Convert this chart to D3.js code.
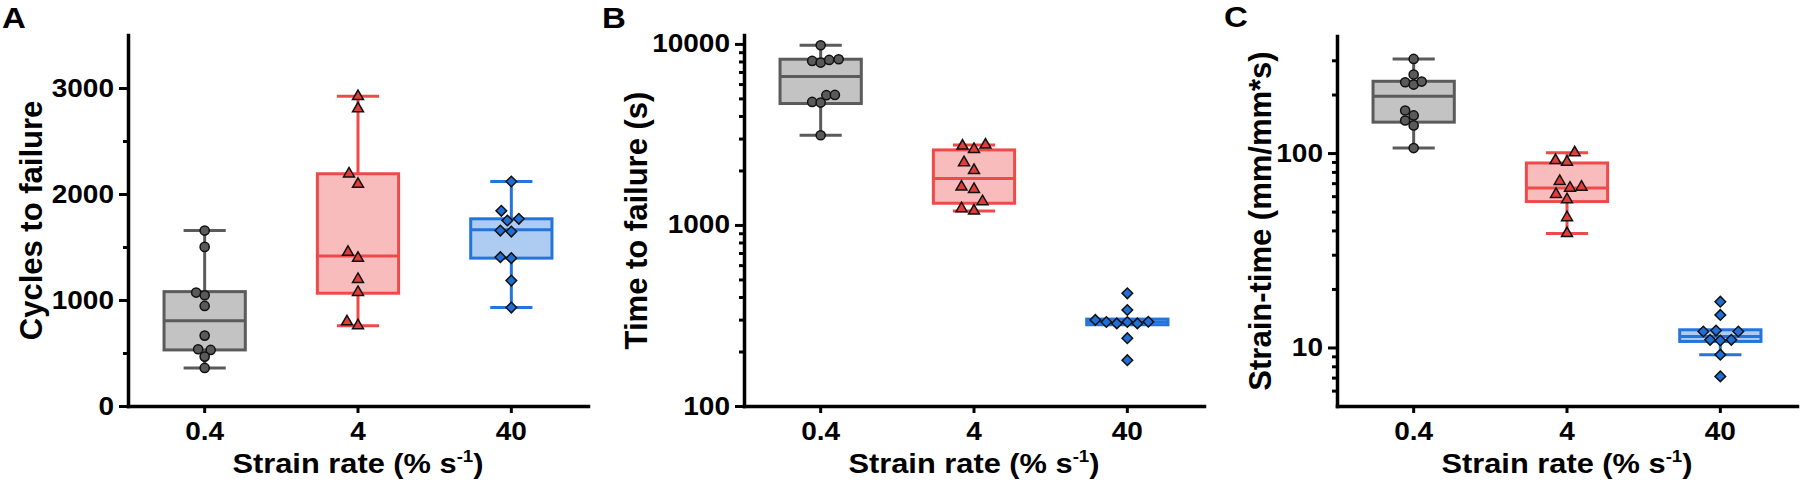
<!DOCTYPE html>
<html><head><meta charset="utf-8">
<script src="https://cdn.jsdelivr.net/npm/d3@7"></script>
<style>
body{margin:0;background:#fff}
svg{display:block}
text{font-family:"Liberation Sans",Arial,Helvetica,sans-serif;font-weight:bold;fill:#000}
</style>
</head><body>
<svg id="chart" width="1800" height="483"></svg>
<script>
// ---------- data ----------
const categories = ["0.4", "4", "40"];

// Panel A: Cycles to failure (linear)
const cyclesTicks = [0, 1000, 2000, 3000];
const cyclesMinorTicks = [500, 1500, 2500];
const cyclesGray = [1655, 1501, 1070, 1045, 944, 664, 535, 529, 466, 359];
const cyclesRed  = [2921, 2805, 2191, 2093, 1451, 1395, 1196, 1073, 796, 758];
const cyclesBlue = [2118, 1841, 1766, 1750, 1655, 1646, 1404, 1395, 1183, 929];
// box stats: [lowWhisker, Q1, median, Q3, highWhisker]
const cyclesBoxGray = [359, 529, 805, 1079, 1655];
const cyclesBoxRed  = [758, 1064, 1416, 2191, 2921];
const cyclesBoxBlue = [929, 1395, 1662, 1766, 2118];

// Panel B: Time to failure (log)
const timeTicks = [100, 1000, 10000];
const timeMinorTicks = [200, 300, 400, 500, 600, 700, 800, 900, 2000, 3000, 4000, 5000, 6000, 7000, 8000, 9000];
const timeGray = [9835, 8054, 7889, 8157, 8230, 4782, 4744, 5208, 5227, 3131];
const timeRed  = [2732, 2619, 2767, 2212, 2005, 1622, 1575, 1347, 1232, 1195];
const timeBlue = [419, 339, 299, 291, 286, 291, 286, 292, 237, 179];
const timeBoxGray = [3131, 4685, 6607, 8230, 9835];
const timeBoxRed  = [1195, 1318, 1805, 2597, 2767];
const timeBoxBlue = [281, 281, 291, 302, 302];

// Panel C: Strain-time (log)
const strainTicks = [10, 100];
const strainMinorTicks = [6, 7, 8, 9, 20, 30, 40, 50, 60, 70, 80, 90, 200, 300];
const strainGray = [304.8, 253.3, 231.3, 225, 233.2, 165.6, 156.1, 147.1, 138.7, 106.1];
const strainRed  = [91.7, 89.9, 100.5, 71.6, 66.1, 66.9, 61.4, 57.7, 46.6, 38.6];
const strainBlue = [17.2, 14.7, 12.08, 12.22, 12.08, 10.95, 10.86, 10.95, 9.18, 7.1];
const strainBoxGray = [106.1, 144.2, 196, 234, 304.8];
const strainBoxRed  = [38.6, 56.3, 66.1, 88.9, 100.5];
const strainBoxBlue = [9.18, 10.74, 11.39, 12.33, 12.33];

// horizontal dodge of overlapping points (in marker widths)
const dodgeCyclesGray = [0, 0, -0.85, 0, 0, 0, -0.65, 0.6, 0, 0];
const dodgeCyclesRed  = [0, 0, -0.9, 0, -1.0, 0, 0, 0, -1.1, 0];
const dodgeCyclesBlue = [0, -1.0, 0.75, -0.4, -1.1, 0, -1.1, 0, 0, 0];
const dodgeTimeGray = [0, -0.85, 0, 0.85, 1.8, -0.85, 0, 0.57, 1.42, 0];
const dodgeTimeRed  = [-1.15, 0, 1.15, -1.0, 0, -1.25, 0, 0.85, -1.25, 0];
const dodgeTimeBlue = [0, 0, -3.2, -2.1, -1.05, 0, 1.0, 2.1, 0, 0];
const dodgeStrainGray = [0, 0, -0.85, 0, 0.8, -0.85, 0, -0.85, 0, 0];
const dodgeStrainRed  = [-1.15, 0, 0.77, -0.73, 0.3, 1.45, -1.1, 0, 0, 0];
const dodgeStrainBlue = [0, 0, -1.7, -0.43, 1.8, -1.02, 0, 1.1, 0, 0];

// ---------- styles ----------
const styles = [
  {fill: "#c3c3c3", stroke: "#5b5b5b", mfill: "#5a5a5a", symbol: d3.symbolCircle, size: 66, rot: 0},
  {fill: "#f9bcbc", stroke: "#ef4a4a", mfill: "#e23d3b", symbol: d3.symbolTriangle, size: 52, rot: 0},
  {fill: "#aecbf1", stroke: "#2474dc", mfill: "#1f6fd6", symbol: d3.symbolSquare, size: 56, rot: 45}
];
const UNIT = 10;           // marker width in px
const TXT_SX = 1.12;       // horizontal stretch of tick text

const svg = d3.select("#chart");

const panels = [
  {
    label: "A", labelX: 2, labelY: 28,
    x0: 128, x1: 588, yTop: 35, yBot: 406,
    scale: d3.scaleLinear().domain([0, 3500]),
    major: cyclesTicks, minor: cyclesMinorTicks,
    title: "Cycles to failure", titleX: 31,
    values: [cyclesGray, cyclesRed, cyclesBlue],
    boxes: [cyclesBoxGray, cyclesBoxRed, cyclesBoxBlue],
    dodge: [dodgeCyclesGray, dodgeCyclesRed, dodgeCyclesBlue]
  },
  {
    label: "B", labelX: 602, labelY: 28,
    x0: 744, x1: 1204, yTop: 35, yBot: 406,
    scale: d3.scaleLog().domain([100, 11200]),
    major: timeTicks, minor: timeMinorTicks,
    title: "Time to failure (s)", titleX: 636,
    values: [timeGray, timeRed, timeBlue],
    boxes: [timeBoxGray, timeBoxRed, timeBoxBlue],
    dodge: [dodgeTimeGray, dodgeTimeRed, dodgeTimeBlue]
  },
  {
    label: "C", labelX: 1224, labelY: 27,
    x0: 1337, x1: 1797, yTop: 36, yBot: 406,
    scale: d3.scaleLog().domain([5, 400]),
    major: strainTicks, minor: strainMinorTicks,
    title: "Strain-time (mm/mm*s)", titleX: 1260,
    values: [strainGray, strainRed, strainBlue],
    boxes: [strainBoxGray, strainBoxRed, strainBoxBlue],
    dodge: [dodgeStrainGray, dodgeStrainRed, dodgeStrainBlue]
  }
];

panels.forEach(p => {
  const g = svg.append("g");
  const x = d3.scaleBand().domain(categories).range([p.x0, p.x1]);
  const y = p.scale.range([p.yBot, p.yTop]);
  const bw = x.bandwidth();
  const boxW = bw * 0.53;
  const capW = bw * 0.275;

  // boxes
  categories.forEach((c, i) => {
    const st = styles[i];
    const [lo, q1, med, q3, hi] = p.boxes[i];
    const cx = x(c) + bw / 2;
    const bg = g.append("g").attr("stroke", st.stroke).attr("stroke-width", 3).attr("fill", "none");
    if (hi > q3) {
      bg.append("line").attr("x1", cx).attr("x2", cx).attr("y1", y(q3)).attr("y2", y(hi));
      bg.append("line").attr("x1", cx - capW / 2).attr("x2", cx + capW / 2).attr("y1", y(hi)).attr("y2", y(hi));
    }
    if (lo < q1) {
      bg.append("line").attr("x1", cx).attr("x2", cx).attr("y1", y(q1)).attr("y2", y(lo));
      bg.append("line").attr("x1", cx - capW / 2).attr("x2", cx + capW / 2).attr("y1", y(lo)).attr("y2", y(lo));
    }
    bg.append("rect").attr("x", cx - boxW / 2).attr("width", boxW)
      .attr("y", y(q3)).attr("height", Math.max(0, y(q1) - y(q3)))
      .attr("fill", st.fill);
    bg.append("line").attr("x1", cx - boxW / 2).attr("x2", cx + boxW / 2).attr("y1", y(med)).attr("y2", y(med));
  });

  // points
  categories.forEach((c, i) => {
    const st = styles[i];
    const cx = x(c) + bw / 2;
    const sym = d3.symbol().type(st.symbol).size(st.size);
    g.append("g").selectAll("path").data(p.values[i]).join("path")
      .attr("d", sym)
      .attr("transform", (d, k) => `translate(${cx + p.dodge[i][k] * UNIT},${y(d)}) rotate(${st.rot})`)
      .attr("fill", st.mfill).attr("stroke", "#111").attr("stroke-width", 1.5);
  });

  // y axis (minor ticks)
  const gm = g.append("g").attr("transform", `translate(${p.x0},0)`)
    .call(d3.axisLeft(y).tickValues(p.minor).tickSize(5).tickSizeOuter(0).tickFormat(""));
  gm.select(".domain").remove();
  gm.selectAll("line").attr("stroke", "#000").attr("stroke-width", 3);

  // y axis (major)
  const gy = g.append("g").attr("transform", `translate(${p.x0},0)`)
    .call(d3.axisLeft(y).tickValues(p.major).tickSize(9).tickSizeOuter(0).tickFormat(d3.format("d")));
  gy.select(".domain").attr("stroke", "#000").attr("stroke-width", 3.5).attr("stroke-linecap", "square");
  gy.selectAll(".tick line").attr("stroke", "#000").attr("stroke-width", 3);
  gy.selectAll(".tick text").attr("x", 0).attr("transform", `translate(-14,0) scale(${TXT_SX},1)`)
    .style("font-size", "25px");
  gy.attr("font-family", null).attr("font-size", null);

  // x axis
  const gx = g.append("g").attr("transform", `translate(0,${p.yBot})`)
    .call(d3.axisBottom(x).tickSize(7).tickSizeOuter(0).tickPadding(9));
  gx.select(".domain").attr("stroke", "#000").attr("stroke-width", 3.5).attr("stroke-linecap", "square");
  gx.selectAll(".tick line").attr("stroke", "#000").attr("stroke-width", 3);
  gx.selectAll(".tick text").attr("transform", `scale(${TXT_SX},1)`).style("font-size", "25px");
  gx.attr("font-family", null).attr("font-size", null);

  // y title
  g.append("text")
    .attr("transform", `translate(${p.titleX},${(p.yTop + p.yBot) / 2}) rotate(-90)`)
    .attr("text-anchor", "middle").attr("dominant-baseline", "central")
    .style("font-size", "31px").text(p.title);

  // x title
  const xt = g.append("g").attr("transform", `translate(${(p.x0 + p.x1) / 2},473) scale(1.1,1)`)
    .append("text").attr("text-anchor", "middle").style("font-size", "28px");
  xt.append("tspan").text("Strain rate (% s");
  xt.append("tspan").attr("dy", -11).style("font-size", "17px").text("-1");
  xt.append("tspan").attr("dy", 11).text(")");

  // panel label
  g.append("g").attr("transform", `translate(${p.labelX},${p.labelY}) scale(1.1,1)`)
    .append("text").style("font-size", "30px").text(p.label);
});
</script>
</body></html>
